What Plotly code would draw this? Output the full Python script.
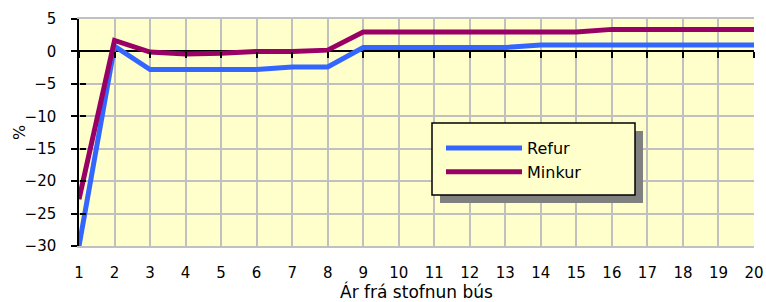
import plotly.graph_objects as go

years = list(range(1, 21))
refur = [-30, 0.8, -2.8, -2.8, -2.8, -2.8, -2.4, -2.4, 0.6, 0.6,
         0.6, 0.6, 0.6, 1.0, 1.0, 1.0, 1.0, 1.0, 1.0, 1.0]
minkur = [-22.8, 1.7, -0.1, -0.4, -0.3, 0.0, 0.0, 0.2, 3.0, 3.0,
          3.0, 3.0, 3.0, 3.0, 3.0, 3.4, 3.4, 3.4, 3.4, 3.4]
y_ticks = [5, 0, -5, -10, -15, -20, -25, -30]
x_title = "Ár frá stofnun bús"
y_title = "%"

FONT = "DejaVu Sans"
BG = "#FFFFCC"
GRID = "#C0C0C0"

fig = go.Figure()
fig.add_trace(go.Scatter(x=years, y=refur, name="Refur", mode="lines",
                         legendgroup="a",
                         line=dict(color="#3366FF", width=5)))
fig.add_trace(go.Scatter(x=years, y=minkur, name="Minkur", mode="lines",
                         legendgroup="b",
                         line=dict(color="#990066", width=5)))
# helper trace for the tick-only axes (invisible)
fig.add_trace(go.Scatter(x=years, y=refur, xaxis="x2", yaxis="y2", mode="lines",
                         line=dict(width=0), opacity=0, showlegend=False,
                         hoverinfo="skip"))

def px_x(p):
    return (p - 79) / 675

def px_y(p):
    return (246 - p) / 227

shapes = [
    dict(type="rect", xref="paper", yref="paper", layer="above",
         x0=px_x(440), x1=px_x(643), y0=px_y(131), y1=px_y(203),
         fillcolor="#808080", line=dict(width=0)),
    dict(type="rect", xref="paper", yref="paper", layer="above",
         x0=px_x(432), x1=px_x(635), y0=px_y(123), y1=px_y(195),
         fillcolor=BG, line=dict(color="black", width=1.5)),
]

fig.update_layout(
    width=766, height=302,
    margin=dict(l=79, r=12, t=19, b=56, autoexpand=False),
    paper_bgcolor="white", plot_bgcolor=BG,
    font=dict(family=FONT, size=15, color="black"),
    showlegend=True,
    legend=dict(x=px_x(441), y=px_y(131), xanchor="left", yanchor="top",
                bgcolor="rgba(0,0,0,0)", borderwidth=0,
                font=dict(family=FONT, size=16), itemwidth=76,
                tracegroupgap=0),
    shapes=shapes,
    annotations=[dict(text=y_title, xref="paper", yref="paper",
                      x=px_x(19), y=px_y(133), showarrow=False,
                      textangle=-90, font=dict(size=16),
                      xanchor="center", yanchor="middle")],
    xaxis=dict(range=[1, 20], tickmode="array", tickvals=years,
               showgrid=True, gridcolor=GRID, gridwidth=1.5,
               showline=True, linecolor=GRID, linewidth=1.5, mirror=True,
               ticks="", zeroline=False, automargin=False,
               title=dict(text=x_title, standoff=3, font=dict(size=17)),
               ticklabelstandoff=12),
    yaxis=dict(range=[-30, 5], tickmode="array", tickvals=y_ticks,
               showgrid=True, gridcolor=GRID, gridwidth=1.5,
               showline=True, linecolor="black", linewidth=1.5,
               ticks="outside", ticklen=6, tickcolor="black", tickwidth=1.5,
               zeroline=True, zerolinecolor="black", zerolinewidth=1.5,
               automargin=False,
               ticklabelstandoff=12),
    xaxis2=dict(range=[1, 20], tickmode="array", tickvals=years,
                overlaying="x", anchor="free", position=30 / 35,
                showgrid=False, showline=False, zeroline=False,
                ticks="outside", ticklen=6, tickcolor="black", tickwidth=1.5,
                showticklabels=False, automargin=False),
    yaxis2=dict(range=[-30, 5], tickmode="array", tickvals=y_ticks,
                overlaying="y", anchor="free", position=0, side="left",
                showgrid=False, showline=False, zeroline=False,
                ticks="inside", ticklen=6, tickcolor="black", tickwidth=1.5,
                showticklabels=False, automargin=False),
)

fig.write_html("out.html",
               config={"displayModeBar": False},
               post_script="document.body.style.margin='0';"
                           "document.body.style.overflow='hidden';")
